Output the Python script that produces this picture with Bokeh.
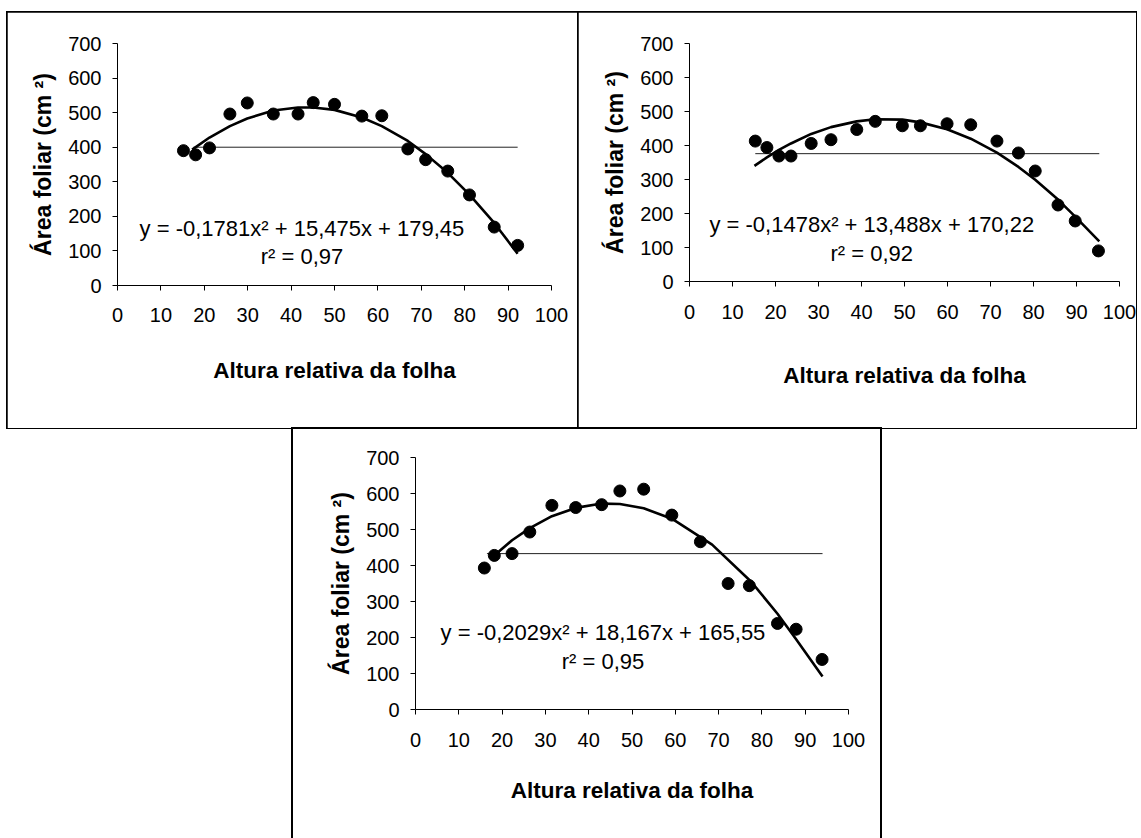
from bokeh.plotting import figure
from bokeh.models import Range1d, FixedTicker
from bokeh.layouts import column, row
from bokeh.embed import file_html
from bokeh.resources import INLINE
from bokeh.core.properties import value

FONT = "Liberation Sans"

# ---------------- data ----------------
x_ticks = [0, 10, 20, 30, 40, 50, 60, 70, 80, 90, 100]
y_ticks = [0, 100, 200, 300, 400, 500, 600, 700]

# panel 1
x1 = [15.2, 18.0, 21.2, 25.9, 29.9, 35.9, 41.6, 45.1, 50.0, 56.3, 60.9, 66.9, 71.0, 76.1, 81.1, 86.8, 92.2]
y1 = [390, 378, 398, 496, 528, 496, 496, 529, 524, 490, 491, 395, 364, 331, 262, 169, 116]
fit1_x = [17.2, 21.2, 25.9, 29.9, 35.9, 41.6, 45.1, 50.0, 56.3, 60.9, 66.9, 71.0, 76.1, 81.1, 86.8, 92.2]
fit1_y = [393, 428, 461, 483, 506, 515, 515, 508, 486, 461, 418, 380, 326, 263, 181, 92]

# panel 2
x2 = [15.3, 18.0, 20.8, 23.6, 28.3, 32.9, 38.9, 43.2, 49.5, 53.7, 59.9, 65.4, 71.5, 76.5, 80.4, 85.7, 89.7, 95.1]
y2 = [413, 394, 369, 369, 406, 417, 447, 471, 458, 458, 464, 461, 413, 378, 325, 225, 178, 90]
fit2_x = [15.1, 18.0, 20.8, 23.6, 28.3, 32.9, 38.9, 43.2, 49.5, 53.7, 59.9, 65.4, 71.5, 76.5, 80.4, 85.7, 89.7, 95.3]
fit2_y = [340, 365, 387, 406, 434, 454, 471, 477, 476, 468, 448, 420, 379, 337, 299, 241, 191, 118]

# panel 3
x3 = [15.9, 18.2, 22.3, 26.4, 31.5, 37.0, 43.0, 47.2, 52.7, 59.2, 65.8, 72.2, 77.1, 83.6, 87.9, 93.9]
y3 = [393, 428, 433, 493, 567, 561, 569, 607, 612, 540, 466, 350, 344, 239, 223, 139]
fit3_x = [17.3, 22.3, 26.4, 31.5, 37.0, 43.0, 47.2, 52.7, 59.2, 68.5, 77.6, 83.6, 87.9, 94.0]
fit3_y = [419, 470, 504, 537, 560, 572, 571, 559, 530, 458, 354, 266, 195, 92]

# horizontal reference lines
ref_y = [400, 376, 433]
ref_x_start = [17.5, 15.3, 16.5]
ref_x_end = [92.2, 95.3, 94.0]

eq_texts = ["y = -0,1781x\u00b2 + 15,475x + 179,45",
            "y = -0,1478x\u00b2 + 13,488x + 170,22",
            "y = -0,2029x\u00b2 + 18,167x + 165,55"]
r2_texts = ["r\u00b2 = 0,97", "r\u00b2 = 0,92", "r\u00b2 = 0,95"]

x_title = "Altura relativa da folha"
y_title = "\u00c1rea foliar (cm \u00b2)"

# ---------------- layout / style ----------------
geoms = [
    dict(fw=434, fh=242, bl=110, br=27, bt=31, bb=143, xts=17, xls=33, yls=9, ex=42.5, ey=166, ry=84),
    dict(fw=430, fh=238, bl=111, br=17, bt=30, bb=148, xts=18, xls=41, yls=9, ex=42.4, ey=168, ry=83),
    dict(fw=433, fh=252, bl=122, br=32, bt=28, bb=129, xts=18, xls=28, yls=9, ex=43.3, ey=215, ry=132),
]


def make_panel(i, xs, ys, fx, fy):
    g = geoms[i]
    p = figure(frame_width=g["fw"], frame_height=g["fh"],
               x_range=Range1d(0, 100), y_range=Range1d(0, 700),
               output_backend="svg", toolbar_location=None,
               min_border_left=g["bl"], min_border_right=g["br"],
               min_border_top=g["bt"], min_border_bottom=g["bb"],
               background_fill_color="white", border_fill_color="white")
    p.outline_line_color = None
    p.xgrid.visible = False
    p.ygrid.visible = False
    p.xaxis.ticker = FixedTicker(ticks=x_ticks)
    p.yaxis.ticker = FixedTicker(ticks=y_ticks)
    for ax in (p.xaxis[0], p.yaxis[0]):
        ax.axis_line_color = "black"
        ax.axis_line_width = 1
        ax.major_tick_line_color = "black"
        ax.major_tick_out = 5
        ax.major_tick_in = 0
        ax.minor_tick_line_color = None
        ax.major_label_text_font = FONT
        ax.major_label_text_font_size = "20px"
        ax.major_label_text_color = "black"
        ax.axis_label_text_font = FONT
        ax.axis_label_text_font_style = "bold"
        ax.axis_label_text_color = "black"
    p.xaxis.axis_label_text_font_size = "22.5px"
    p.yaxis.axis_label_text_font_size = "23px"
    p.xaxis.major_label_standoff = g["xts"]
    p.yaxis.major_label_standoff = 11
    p.xaxis.axis_label = x_title
    p.yaxis.axis_label = y_title
    p.xaxis.axis_label_standoff = g["xls"]
    p.yaxis.axis_label_standoff = g["yls"]

    p.line([ref_x_start[i], ref_x_end[i]], [ref_y[i], ref_y[i]], line_color="#222222", line_width=1)
    p.line(fx, fy, line_color="black", line_width=2.6, line_join="round")
    p.scatter(xs, ys, size=12, fill_color="black", line_color="black")
    p.text(x=[g["ex"], g["ex"]], y=[g["ey"], g["ry"]], text=[eq_texts[i], r2_texts[i]],
           text_font=value(FONT), text_font_size="22px", text_color="black",
           text_align="center", text_baseline="middle")
    p.styles = {"outline": "2px solid black", "outline-offset": "-1px"}
    return p


p1 = make_panel(0, x1, y1, fit1_x, fit1_y)
p2 = make_panel(1, x2, y2, fit2_x, fit2_y)
p3 = make_panel(2, x3, y3, fit3_x, fit3_y)
p1.margin = (12, 0, 0, 7)
p2.margin = (12, 0, 0, 0)
p3.margin = (1, 0, 0, 293)
p3.styles = {"outline": "2px solid black", "outline-offset": "0px"}

layout = column(row(p1, p2), p3)
open("out.html", "w").write(file_html(layout, INLINE))
